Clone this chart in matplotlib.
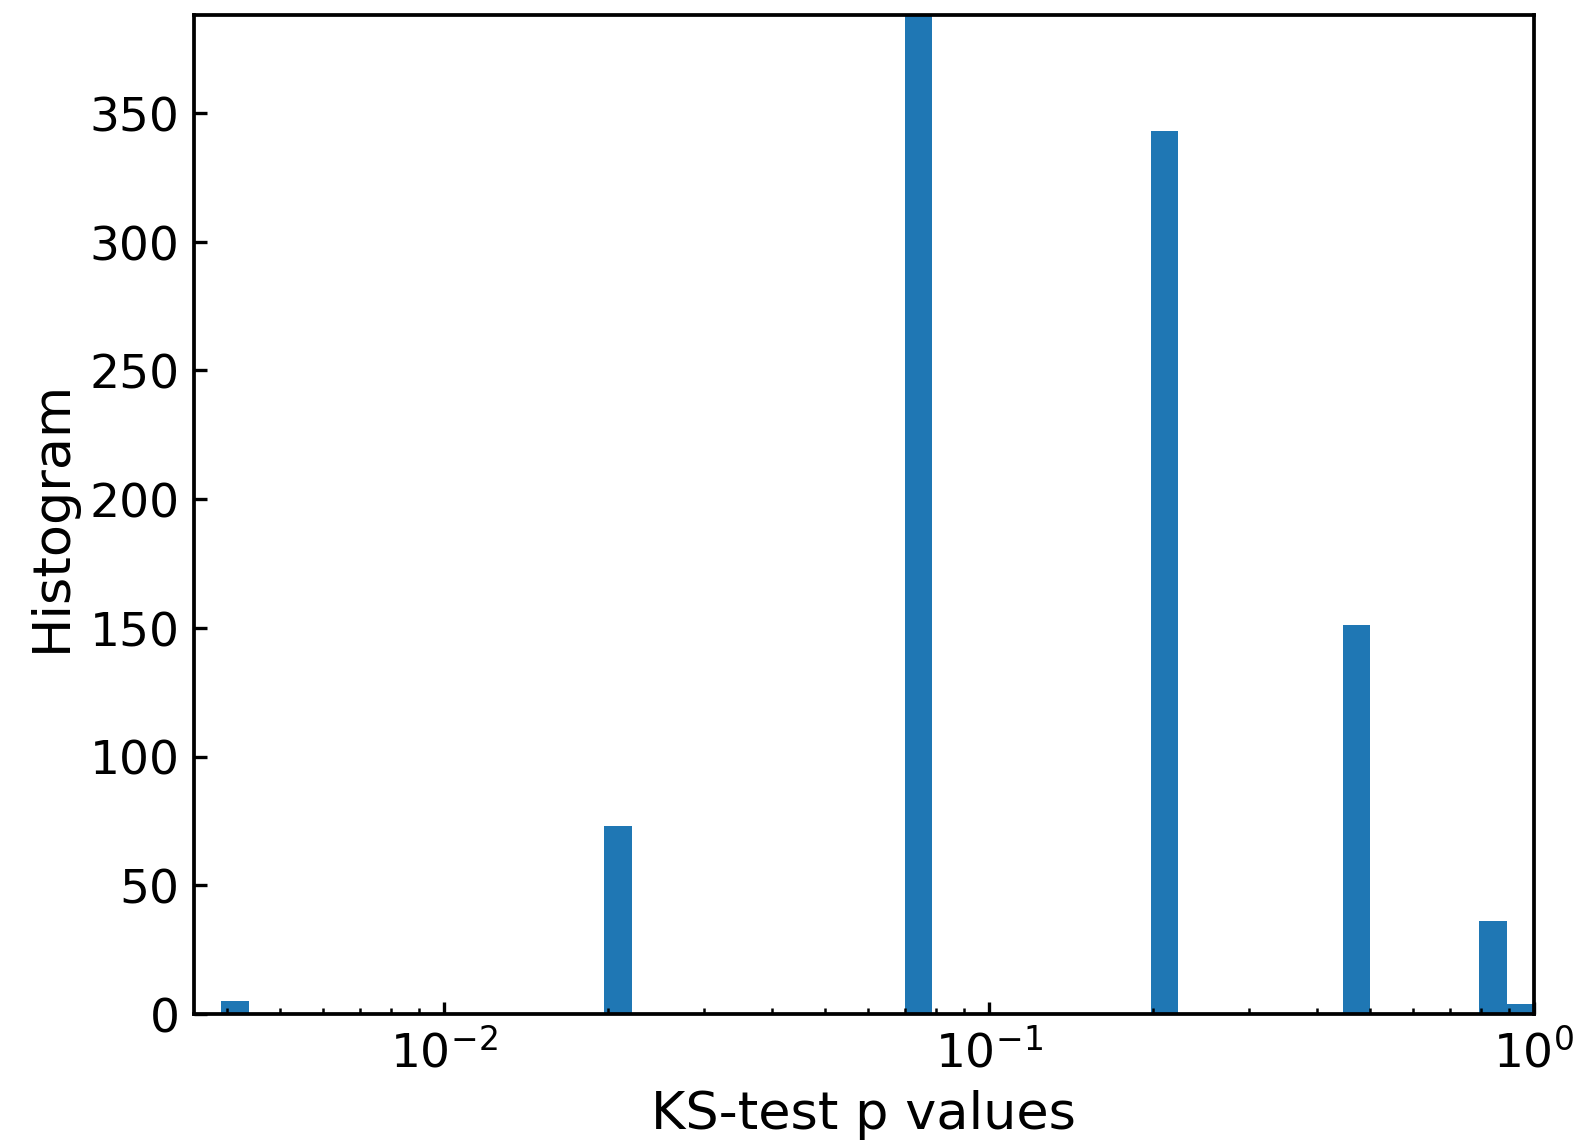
import numpy as np
import matplotlib
matplotlib.use("Agg")
import matplotlib.pyplot as plt

# Representative KS-test p values for each populated bin and their counts
p_values = [0.0039, 0.0209, 0.0741, 0.209, 0.468, 0.841, 1.0]
counts = [5, 73, 388, 343, 151, 36, 4]
n_bins = 48

fig = plt.figure(figsize=(5.28, 3.8133), dpi=300)
ax = fig.add_axes([0.1225, 0.1128, 0.8459, 0.8732])

edges = np.logspace(np.log10(min(p_values)), np.log10(max(p_values)), n_bins + 1)
ax.hist(p_values, bins=edges, weights=counts, color="#1f77b4")
ax.set_xscale("log")
ax.set_xlim(10 ** -2.459, 1.0)
ax.set_ylim(0, max(counts))
ax.set_yticks([0, 50, 100, 150, 200, 250, 300, 350])

for s in ax.spines.values():
    s.set_linewidth(0.9)
ax.tick_params(which="both", direction="in", labelsize=11.3)
ax.tick_params(which="major", length=3, width=0.8)
ax.tick_params(which="minor", length=1.5, width=0.6)
ax.set_xlabel("KS-test p values", fontsize=12.6, labelpad=3)
ax.set_ylabel("Histogram", fontsize=12.6, labelpad=3)

fig.savefig("out.png", dpi=300)
